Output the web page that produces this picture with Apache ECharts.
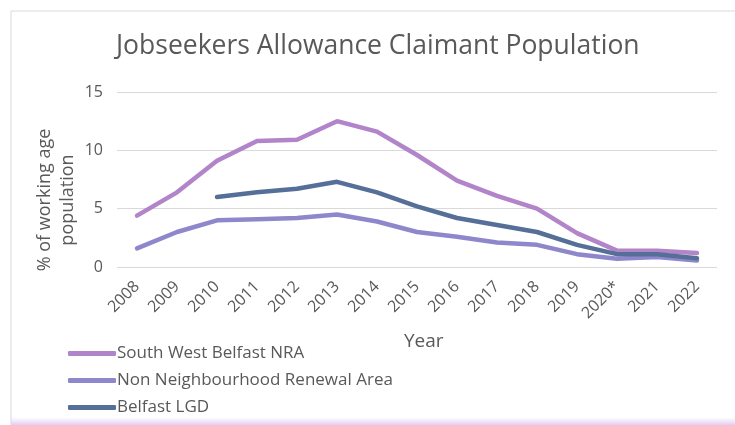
<!DOCTYPE html>
<html>
<head>
<meta charset="utf-8">
<script src="https://cdn.jsdelivr.net/npm/echarts@6/dist/echarts.min.js"></script>
<style>
  html, body { margin: 0; padding: 0; background: #fff; }
  #chart-container { width: 735px; height: 425px; }
</style>
</head>
<body>
<div id="chart-container"></div>
<script>
// years on the x axis
const years = ["2008", "2009", "2010", "2011", "2012", "2013", "2014", "2015",
  "2016", "2017", "2018", "2019", "2020*", "2021", "2022"];
// % of working age population
const swBelfastNRA = [4.4, 6.4, 9.1, 10.8, 10.9, 12.5, 11.6, 9.6, 7.4, 6.1, 5.0, 2.9, 1.4, 1.4, 1.2];
const nonNRA = [1.6, 3.0, 4.0, 4.1, 4.2, 4.5, 3.9, 3.0, 2.6, 2.1, 1.9, 1.1, 0.7, 0.85, 0.55];
const belfastLGD = [null, null, 6.0, 6.4, 6.7, 7.3, 6.4, 5.2, 4.2, 3.6, 3.0, 1.9, 1.1, 1.1, 0.75];

var dom = document.getElementById("chart-container");
var myChart = echarts.init(dom, null, { renderer: "canvas" });

const font = "'Open Sans', 'Noto Sans', sans-serif";
const grey = "#595959";

var option = {
  animation: false,
  textStyle: { fontFamily: font },
  graphic: [
    {
      type: "rect",
      shape: { x: 11, y: 11, width: 740, height: 440 },
      style: { fill: "none", stroke: "#d9d9d9", lineWidth: 1 },
      z: -1
    },
    {
      type: "rect",
      shape: { x: 11, y: 417, width: 740, height: 8 },
      style: {
        fill: new echarts.graphic.LinearGradient(0, 0, 0, 1, [
          { offset: 0, color: "rgba(230,215,245,0)" },
          { offset: 1, color: "rgba(225,205,245,1)" }
        ])
      },
      z: -1
    },
    {
      type: "text",
      left: 404,
      top: 332,
      style: { text: "Year", fontSize: 19, fill: grey, fontFamily: font }
    },
    // y axis title, two centred lines
    {
      type: "text",
      x: 45,
      y: 200,
      rotation: Math.PI / 2,
      style: {
        text: "% of working age", fontSize: 18, fill: grey, fontFamily: font,
        align: "center", verticalAlign: "middle"
      }
    },
    {
      type: "text",
      x: 68,
      y: 200,
      rotation: Math.PI / 2,
      style: {
        text: "population", fontSize: 18, fill: grey, fontFamily: font,
        align: "center", verticalAlign: "middle"
      }
    }
  ],
  title: {
    text: "Jobseekers Allowance Claimant Population",
    left: 111,
    top: 28,
    textStyle: { fontSize: 26.5, fontWeight: "normal", color: grey, fontFamily: font }
  },
  legend: {
    orient: "vertical",
    left: 63,
    top: 340,
    itemWidth: 48,
    itemHeight: 5,
    itemGap: 10,
    icon: "roundRect",
    textStyle: { fontSize: 17, color: grey, fontFamily: font, padding: [0, 0, 0, -4] },
    data: ["South West Belfast NRA", "Non Neighbourhood Renewal Area", "Belfast LGD"]
  },
  grid: { left: 117, right: 18, top: 92, bottom: 158 },
  xAxis: {
    type: "category",
    data: years,
    boundaryGap: true,
    axisLine: { show: false },
    axisTick: { show: false },
    axisLabel: { rotate: 45, fontSize: 16, color: grey, margin: 17, interval: 0 }
  },
  yAxis: {
    type: "value",
    min: 0,
    max: 15,
    interval: 5,
    axisLabel: { fontSize: 16, color: grey, margin: 14 },
    splitLine: { lineStyle: { color: "#d9d9d9", width: 1 } }
  },
  series: [
    {
      name: "South West Belfast NRA",
      type: "line",
      data: swBelfastNRA,
      showSymbol: false,
      symbol: "none",
      color: "#b284c9",
      lineStyle: { width: 4.5, cap: "round" }
    },
    {
      name: "Non Neighbourhood Renewal Area",
      type: "line",
      data: nonNRA,
      showSymbol: false,
      symbol: "none",
      color: "#8e87cc",
      lineStyle: { width: 4.5, cap: "round" }
    },
    {
      name: "Belfast LGD",
      type: "line",
      data: belfastLGD,
      showSymbol: false,
      symbol: "none",
      color: "#566f98",
      lineStyle: { width: 4.5, cap: "round" }
    }
  ]
};

myChart.setOption(option);
window.addEventListener("resize", myChart.resize);
</script>
</body>
</html>
